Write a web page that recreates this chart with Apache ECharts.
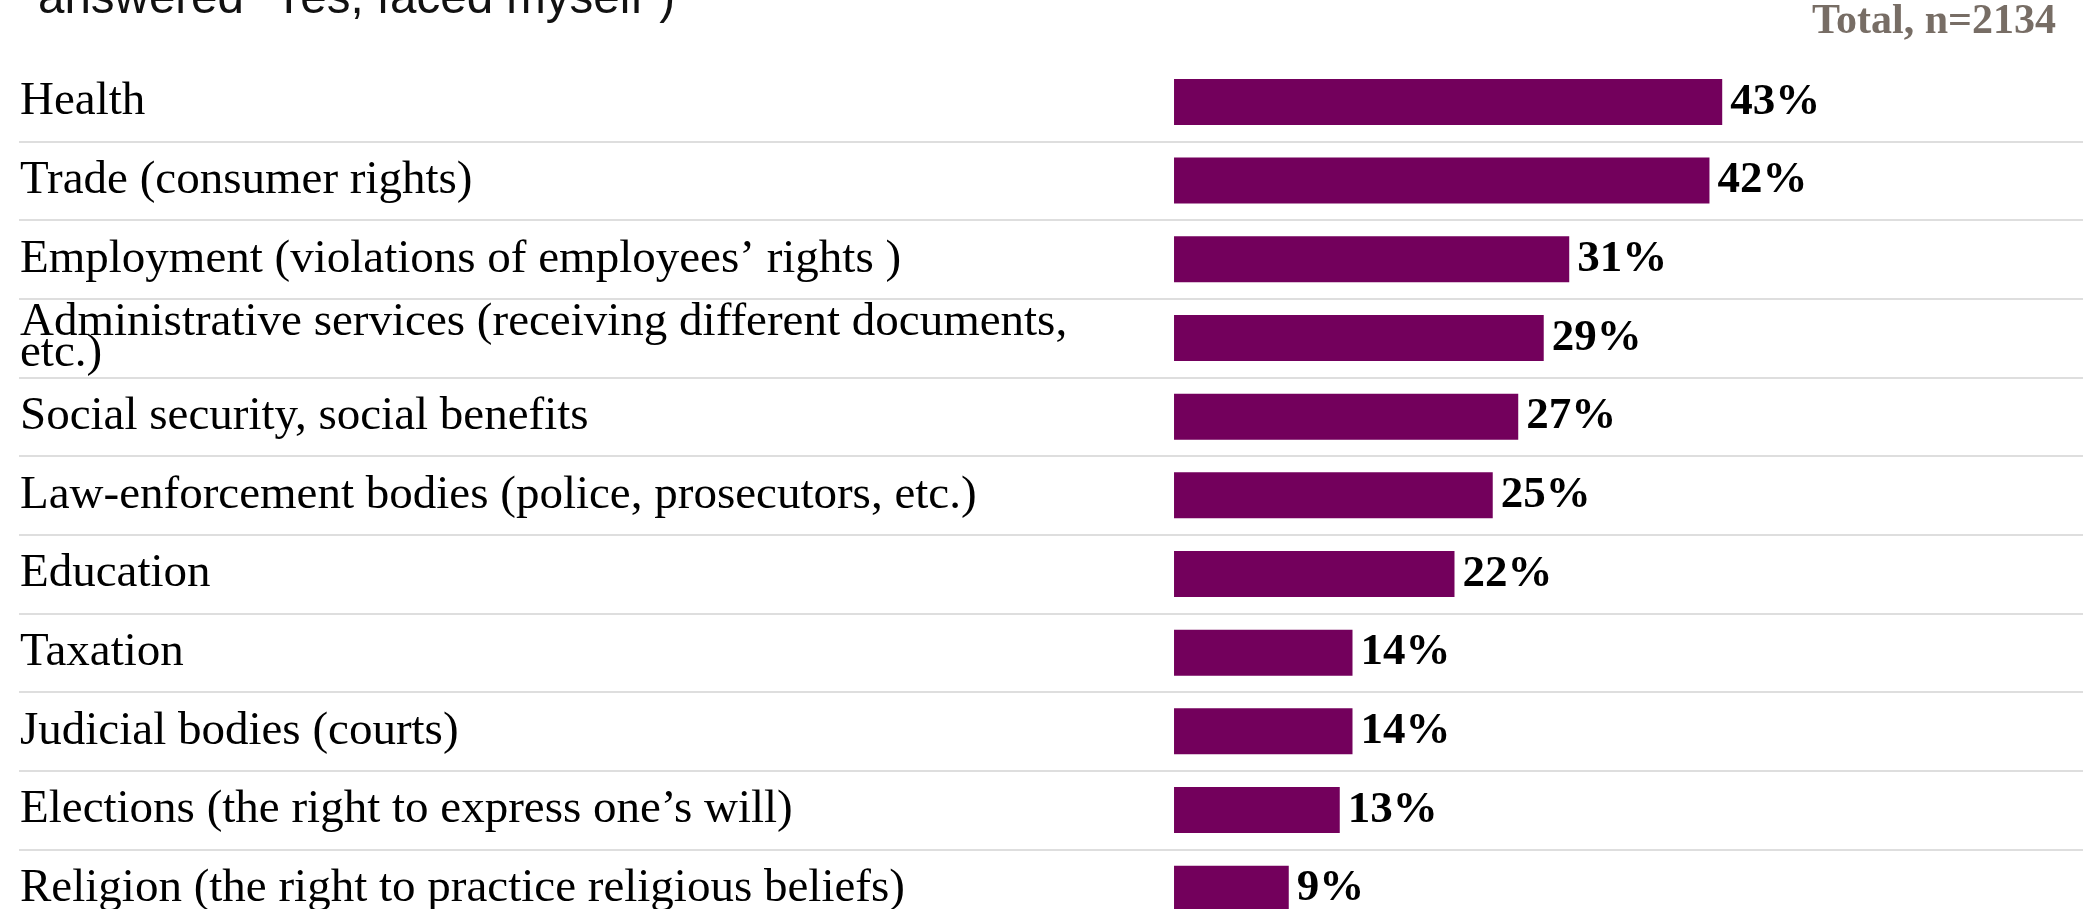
<!DOCTYPE html>
<html>
<head>
<meta charset="utf-8">
<style>
html,body{margin:0;padding:0;background:#fff;}
#chart{width:2083px;height:909px;}
</style>
<script src="https://cdn.jsdelivr.net/npm/echarts@6/dist/echarts.min.js"></script>
</head>
<body>
<div id="chart"></div>
<script>
const titleLine = 'answered \u201cYes, faced myself\u201d)';
const sampleLabel = 'Total, n=2134';
const categories = [
  'Health',
  'Trade (consumer rights)',
  'Employment (violations of employees\u2019 rights )',
  'Administrative services (receiving different documents,\netc.)',
  'Social security, social benefits',
  'Law-enforcement bodies (police, prosecutors, etc.)',
  'Education',
  'Taxation',
  'Judicial bodies (courts)',
  'Elections (the right to express one\u2019s will)',
  'Religion (the right to practice religious beliefs)'
];
const values = [43, 42, 31, 29, 27, 25, 22, 14, 14, 13, 9];

const chart = echarts.init(document.getElementById('chart'), null, {renderer: 'canvas'});
chart.setOption({
  animation: false,
  backgroundColor: '#ffffff',
  graphic: [
    {
      type: 'text', x: 38, y: 0,
      style: {
        text: titleLine,
        font: 'normal 47.5px "Liberation Sans", Arial, sans-serif',
        fill: '#111111',
        verticalAlign: 'middle',
        align: 'left'
      }
    },
    {
      type: 'text', x: 2056, y: 22,
      style: {
        text: sampleLabel,
        font: 'bold 42px "Liberation Serif", serif',
        fill: '#776d65',
        verticalAlign: 'middle',
        align: 'right'
      }
    }
  ],
  grid: {
    left: 19,
    top: 62.6,
    width: 2064,
    height: 865.4,
    containLabel: false,
    outerBoundsMode: 'none'
  },
  xAxis: {
    type: 'value',
    min: -90.6,
    max: 71.3,
    show: false
  },
  yAxis: {
    type: 'category',
    inverse: true,
    data: categories,
    axisLine: {show: false},
    axisTick: {show: false},
    splitLine: {
      show: true,
      showMinLine: false,
      lineStyle: {color: '#dedede', width: 2}
    },
    axisLabel: {
      inside: true,
      interval: 0,
      margin: 1,
      align: 'left',
      fontFamily: '"Liberation Serif", serif',
      fontSize: 47,
      lineHeight: 31,
      color: '#000000',
      padding: [0, 0, 12, 0]
    }
  },
  series: [{
    type: 'bar',
    data: values,
    barWidth: 46,
    itemStyle: {color: '#73005c'},
    label: {
      show: true,
      position: 'right',
      distance: 8,
      formatter: '{c}%',
      fontFamily: '"Liberation Serif", serif',
      fontWeight: 'bold',
      fontSize: 45,
      color: '#000000',
      padding: [4, 0, 0, 0]
    }
  }]
});
</script>
</body>
</html>
